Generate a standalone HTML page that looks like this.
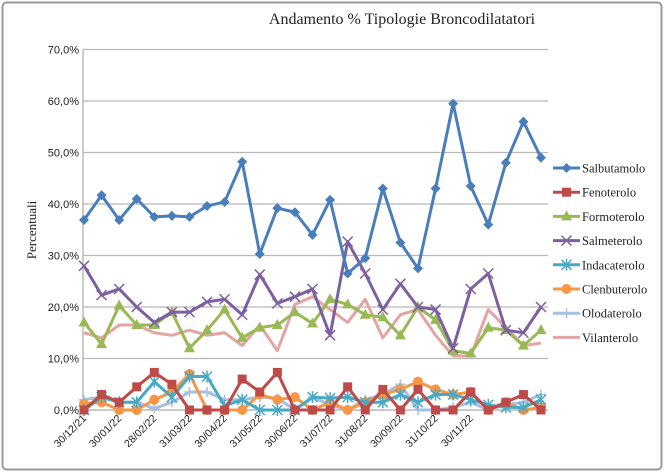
<!DOCTYPE html>
<html><head><meta charset="utf-8"><style>
html,body{margin:0;padding:0;background:#fff;}
svg{display:block;}
</style></head><body>
<svg id="chart" width="665" height="473" xmlns="http://www.w3.org/2000/svg">
<rect x="2.5" y="2.5" width="659" height="467" rx="4" fill="#fff" stroke="#9a9a9a" stroke-width="2"/>
<text x="402" y="24" text-anchor="middle" font-family="Liberation Serif, serif" font-size="16" fill="#222">Andamento % Tipologie Broncodilatatori</text>
<text transform="translate(36,230) rotate(-90)" text-anchor="middle" font-family="Liberation Serif, serif" font-size="13" fill="#222">Percentuali</text>
<g id="grid"></g><g id="series"></g><g id="legend"></g>
</svg>
<script>
const categories=["30/12/21","","30/01/22","","28/02/22","","31/03/22","","30/04/22","","31/05/22","","30/06/22","","31/07/22","","31/08/22","","30/09/22","","31/10/22","","30/11/22","","","",""];
const yTicks=[0,10,20,30,40,50,60,70];
const seriesNames=["Salbutamolo","Fenoterolo","Formoterolo","Salmeterolo","Indacaterolo","Clenbuterolo","Olodaterolo","Vilanterolo"];
const salbutamolo=[36.9,41.7,36.9,41.0,37.5,37.7,37.5,39.6,40.4,48.2,30.3,39.2,38.4,34.0,40.8,26.5,29.5,43.0,32.5,27.5,43.0,59.5,43.5,36.0,48.0,56.0,49.0];
const fenoterolo=[0,3,1.5,4.5,7.3,5,0,0,0,6,3.5,7.3,0,0,0,4.5,0,4,0,4,0,0,3.5,0,1.5,3,0];
const formoterolo=[17,12.8,20.3,16.5,16.5,19,12,15.5,19.5,14,16,16.5,19,16.8,21.5,20.5,18.5,18,14.5,20,17.5,11.5,11,16,15.5,12.5,15.5];
const salmeterolo=[28,22.3,23.5,20,17,19,19,21,21.5,18.5,26.3,20.7,22,23.5,14.5,32.7,26.5,19.5,24.5,20,19.5,12,23.5,26.5,15.5,15,20];
const indacaterolo=[0,2.5,1.5,1.5,5.5,2.5,6.5,6.5,0.8,2,0,0,0,2.5,2.3,2.5,1.5,1.5,3,1.5,3,3,2,1,0.5,0.5,2];
const clenbuterolo=[1.2,1.5,0,0,2,3.5,7,0,0,0,3,2,2.5,0,1.5,0,1.5,3,4,5.5,4,3,3.5,0,1.5,0,0.5];
const olodaterolo=[2,2.5,1.5,1.5,0.3,1.5,3.5,3.5,2,2,2.5,2.3,0,2.5,1,0,2,3,5,0,0,0.5,1.5,0,1,1.5,3];
const vilanterolo=[15,14,16.5,16.5,15,14.5,15.5,14.5,15,12.5,16.5,11.5,20.5,22,19.5,17,21.5,14,18.5,19.5,14.5,10.5,10.5,19.5,16,12.5,13];
const allSeries=[salbutamolo,fenoterolo,formoterolo,salmeterolo,indacaterolo,clenbuterolo,olodaterolo,vilanterolo];
const colors=["#4a7ebb","#be4b48","#98b954","#7d60a0","#46aac5","#f79646","#a7bfe0","#e3a5a3"];
const markers=["diamond","square","triangle","x","star","circle","plus","none"];
const NS="http://www.w3.org/2000/svg";
const X0=84,X1=541,Y0=410,YMAX=70,YTOP=49.5;
function xs(i){return X0+(X1-X0)*i/(categories.length-1);}
function ys(v){return Y0-(Y0-YTOP)*v/YMAX;}
function mk(t,a,p){const e=document.createElementNS(NS,t);for(const k in a)e.setAttribute(k,a[k]);p.appendChild(e);return e;}
const grid=document.getElementById('grid');
yTicks.forEach(t=>{
  const l=mk('line',{x1:X0-1,x2:548,y1:ys(t),y2:ys(t),stroke:t===0?'#aaa':'#b8b8b8','stroke-width':1.2},grid);
  
  
  const tx=mk('text',{x:X0-5,y:ys(t)+4,'text-anchor':'end','font-family':'Liberation Sans, sans-serif','font-size':11,fill:'#222'},grid);
  tx.textContent=t.toFixed(1).replace('.',',')+'%';
  
  
});
const ax=mk('line',{x1:X0-1,x2:X0-1,y1:YTOP,y2:Y0,stroke:'#aaa','stroke-width':1.2},grid);


categories.forEach((c,i)=>{
  if(!c)return;
  const tx=mk('text',{transform:`translate(${xs(i)+3},${Y0+9}) rotate(-45)`,'text-anchor':'end','font-family':'Liberation Sans, sans-serif','font-size':10.5,fill:'#222'},grid);
  tx.textContent=c;
  
  
});
function marker(g,type,x,y,col){
  let e=null;
  if(type==='diamond')e=mk('polygon',{points:`${x},${y-5} ${x+5},${y} ${x},${y+5} ${x-5},${y}`,fill:col},g);
  else if(type==='square')e=mk('rect',{x:x-4.5,y:y-4.5,width:9,height:9,fill:col},g);
  else if(type==='triangle')e=mk('polygon',{points:`${x},${y-6} ${x+5.5},${y+4} ${x-5.5},${y+4}`,fill:col},g);
  else if(type==='x')e=mk('path',{d:`M${x-5} ${y-5}L${x+5} ${y+5}M${x-5} ${y+5}L${x+5} ${y-5}`,stroke:col,'stroke-width':1.5},g);
  else if(type==='star')e=mk('path',{d:`M${x-5} ${y-5}L${x+5} ${y+5}M${x-5} ${y+5}L${x+5} ${y-5}M${x} ${y-6}L${x} ${y+6}`,stroke:col,'stroke-width':1.5},g);
  else if(type==='circle')e=mk('circle',{cx:x,cy:y,r:5,fill:col},g);
  else if(type==='plus')e=mk('path',{d:`M${x} ${y-5}L${x} ${y+5}M${x-5} ${y}L${x+5} ${y}`,stroke:col,'stroke-width':1.5},g);
  if(e){}
}
const sg=document.getElementById('series');
[7,6,5,4,1,2,3,0].forEach(si=>{
  const g=mk('g',{},sg);
  
  
  const pts=allSeries[si].map((v,i)=>xs(i)+','+ys(v)).join(' ');
  const pl=mk('polyline',{points:pts,fill:'none',stroke:colors[si],'stroke-width':3,'stroke-linejoin':'round'},g);
  
  
  allSeries[si].forEach((v,i)=>marker(g,markers[si],xs(i),ys(v),colors[si]));
});
const lg=document.getElementById('legend');
seriesNames.forEach((n,i)=>{
  const y=168+i*24.2;
  const g=mk('g',{},lg);
  
  
  mk('line',{x1:553,x2:580,y1:y,y2:y,stroke:colors[i],'stroke-width':3},g);
  marker(g,markers[i],566.5,y,colors[i]);
  const t=mk('text',{x:582,y:y+4.5,'font-family':'Liberation Serif, serif','font-size':12.5,fill:'#222'},g);
  t.textContent=n;
});
</script>
</body></html>
